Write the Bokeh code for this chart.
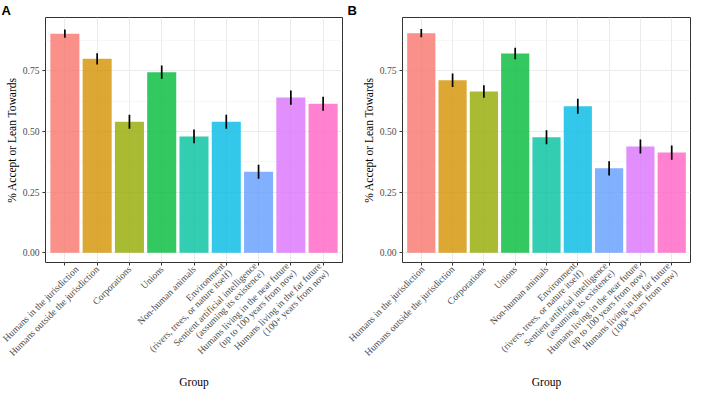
import math
from bokeh.plotting import figure
from bokeh.models import Range1d, FixedTicker, ColumnDataSource
from bokeh.layouts import row
from bokeh.embed import file_html
from bokeh.resources import INLINE

groups = [
    "Humans in the jurisdiction",
    "Humans outside the jurisdiction",
    "Corporations",
    "Unions",
    "Non-human animals",
    "Environment\n(rivers, trees, or nature itself)",
    "Sentient artificial intelligence\n(assuming its existence)",
    "Humans living in the near future\n(up to 100 years from now)",
    "Humans living in the far future\n(100+ years from now)",
]
positions = [1, 2, 3, 4, 5, 6, 7, 8, 9]
values_a = [0.904, 0.800, 0.540, 0.745, 0.480, 0.540, 0.334, 0.640, 0.615]
err_a = [0.017, 0.023, 0.029, 0.027, 0.028, 0.029, 0.029, 0.029, 0.029]
values_b = [0.906, 0.712, 0.665, 0.822, 0.476, 0.604, 0.348, 0.438, 0.413]
err_b = [0.017, 0.028, 0.026, 0.024, 0.029, 0.031, 0.029, 0.029, 0.029]
colors = ["#F8766D", "#D39200", "#93AA00", "#00BA38", "#00C19F",
          "#00B9E3", "#619CFF", "#DB72FB", "#FF61C3"]
y_ticks = [0.0, 0.25, 0.5, 0.75]
y_minor = [0.125, 0.375, 0.625, 0.875]
y_tick_labels = ["0.00", "0.25", "0.50", "0.75"]
x_title = "Group"
y_title = "% Accept or Lean Towards"

SERIF = "Liberation Serif, Times New Roman, serif"
Y0, Y1 = -0.0405, 0.9706


def make_panel(tag, values, errs, width, left, right):
    p = figure(width=width, height=390, output_backend="svg", toolbar_location=None,
               title=tag, x_range=Range1d(0.4, 9.6), y_range=Range1d(Y0, Y1),
               min_border_left=left, min_border_right=right,
               min_border_top=0, min_border_bottom=10)
    src = ColumnDataSource(dict(x=positions, top=values, color=colors,
                                lo=[v - e for v, e in zip(values, errs)],
                                hi=[v + e for v, e in zip(values, errs)]))
    p.vbar(x="x", top="top", bottom=0, width=0.9, fill_color="color",
           fill_alpha=0.8, line_color=None, source=src)
    p.segment(x0="x", x1="x", y0="lo", y1="hi", line_color="black",
              line_width=1.7, source=src)

    p.title.align = "left"
    p.title.offset = -(left - 1)
    p.title.standoff = 0
    p.title.text_font = "Liberation Sans"
    p.title.text_font_style = "bold"
    p.title.text_font_size = "13px"
    p.title.text_color = "black"

    p.background_fill_color = "white"
    p.border_fill_color = "white"
    p.outline_line_color = "#333333"
    p.outline_line_width = 1

    p.xaxis.ticker = FixedTicker(ticks=positions)
    p.xaxis.major_label_overrides = {i: g for i, g in zip(positions, groups)}
    p.xaxis.major_label_orientation = math.pi / 4
    p.xaxis.major_label_text_line_height = 0.9
    p.yaxis.ticker = FixedTicker(ticks=y_ticks, minor_ticks=y_minor)
    p.yaxis.major_label_overrides = {t: l for t, l in zip(y_ticks, y_tick_labels)}

    for ax in (p.xaxis, p.yaxis):
        ax.axis_line_color = None
        ax.major_tick_line_color = "#333333"
        ax.major_tick_out = 3
        ax.major_tick_in = 0
        ax.minor_tick_line_color = None
        ax.major_label_text_font = SERIF
        ax.major_label_text_font_size = "9.6px"
        ax.major_label_text_color = "#4D4D4D"
        ax.major_label_standoff = 2
        ax.axis_label_text_font = SERIF
        ax.axis_label_text_font_size = "11.5px"
        ax.axis_label_text_font_style = "normal"
        ax.axis_label_text_color = "black"
        ax.axis_label_standoff = 2
    p.xaxis.axis_label = x_title
    p.yaxis.axis_label = y_title

    p.xgrid.grid_line_color = "#EBEBEB"
    p.xgrid.grid_line_width = 1
    p.ygrid.grid_line_color = "#EBEBEB"
    p.ygrid.grid_line_width = 1
    p.ygrid.minor_grid_line_color = "#F2F2F2"
    p.ygrid.minor_grid_line_width = 0.6
    return p


pa = make_panel("A", values_a, err_a, 346, 45, 4)
pb = make_panel("B", values_b, err_b, 346, 56, 2)
layout = row(pa, pb)

open("out.html", "w").write(file_html(layout, INLINE))
